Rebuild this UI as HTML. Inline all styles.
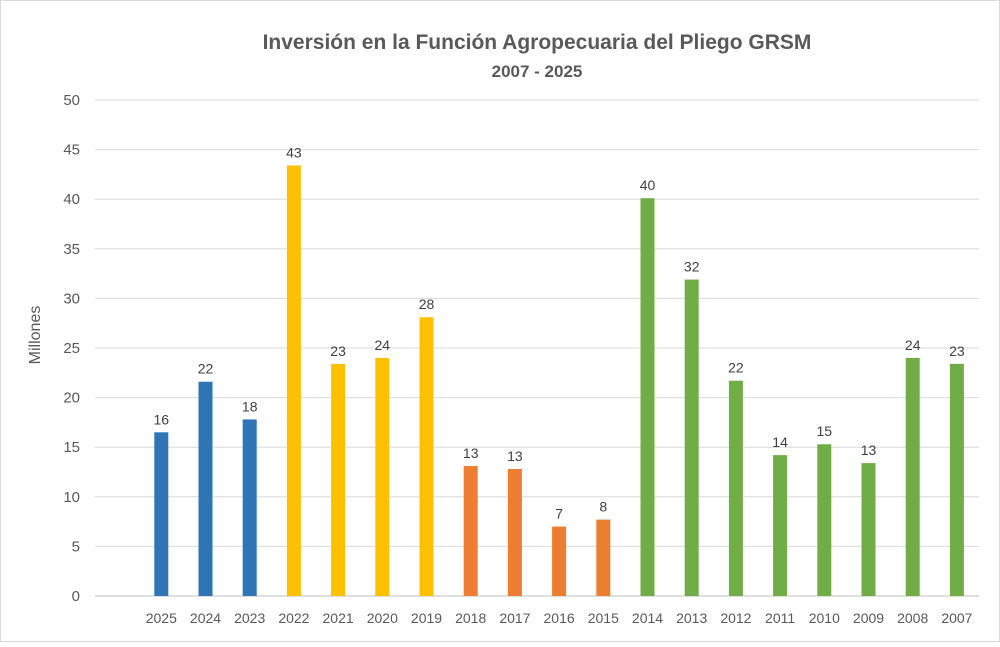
<!DOCTYPE html>
<html><head><meta charset="utf-8"><style>
body{margin:0;background:#fff;font-family:"Liberation Sans",sans-serif}
svg text{font-family:"Liberation Sans",sans-serif}
</style></head><body>
<svg id="c" width="1000" height="642" xmlns="http://www.w3.org/2000/svg">
<rect x="0.5" y="0.5" width="999" height="641" fill="#fff" stroke="#d9d9d9"/>
<text x="537" y="49" text-anchor="middle" font-size="21" font-weight="bold" fill="#595959">Inversión en la Función Agropecuaria del Pliego GRSM</text>
<text x="537" y="77" text-anchor="middle" font-size="17" font-weight="bold" fill="#595959">2007 - 2025</text>
<text transform="translate(40,335) rotate(-90)" text-anchor="middle" font-size="16" fill="#595959">Millones</text>
<g id="grid"></g><g id="bars"></g>
</svg>
<script>
const categories=["","2025","2024","2023","2022","2021","2020","2019","2018","2017","2016","2015","2014","2013","2012","2011","2010","2009","2008","2007"];
const values=[null,16.5,21.6,17.8,43.4,23.4,24.0,28.1,13.1,12.8,7.0,7.7,40.1,31.9,21.7,14.2,15.3,13.4,24.0,23.4];
const valueLabels=["","16","22","18","43","23","24","28","13","13","7","8","40","32","22","14","15","13","24","23"];
const groups=["","b","b","b","y","y","y","y","o","o","o","o","g","g","g","g","g","g","g","g"];
const yTicks=[0,5,10,15,20,25,30,35,40,45,50];
const colors={b:"#2E75B6",y:"#FFC000",o:"#ED7D31",g:"#70AD47"};
const X0=95,X1=979,Y0=596,Y1=100,NS="http://www.w3.org/2000/svg";
const yS=v=>Y0-(v/50)*(Y0-Y1);
const bw=(X1-X0)/categories.length;
const xS=i=>X0+bw*(i+0.5);
const grid=document.getElementById('grid'),bars=document.getElementById('bars');
function mk(t,a,p){const e=document.createElementNS(NS,t);for(const k in a)e.setAttribute(k,a[k]);p.appendChild(e);return e;}
yTicks.forEach(t=>{
 const l=mk('line',{x1:X0,x2:X1,y1:yS(t),y2:yS(t),stroke:t===0?'#bfbfbf':'#d9d9d9','stroke-width':1},grid);
 
 
 const tx=mk('text',{x:80,y:yS(t)+5,'text-anchor':'end','font-size':15,fill:'#595959'},grid);
 tx.textContent=t;
 
 
});
categories.forEach((c,i)=>{
 if(c!==""){
 const tx=mk('text',{x:xS(i),y:623,'text-anchor':'middle','font-size':14,fill:'#595959'},grid);
 tx.textContent=c;
 
 
 }
 if(values[i]==null)return;
 const r=mk('rect',{x:xS(i)-7,y:yS(values[i]),width:14,height:Y0-yS(values[i]),fill:colors[groups[i]]},bars);
 
 
 const lb=mk('text',{x:xS(i),y:yS(values[i])-8,'text-anchor':'middle','font-size':14,fill:'#404040'},bars);
 lb.textContent=valueLabels[i];
 
 
});
</script>
</body></html>
